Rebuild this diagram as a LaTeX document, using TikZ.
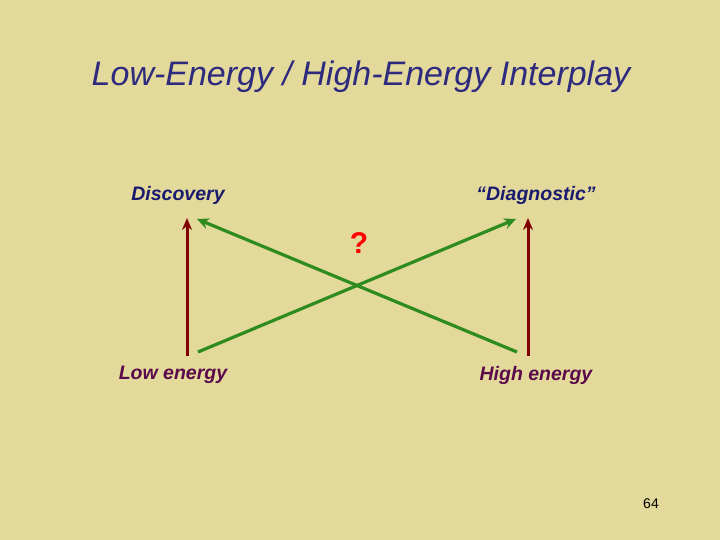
\documentclass[tikz,border=0pt]{standalone}
\usepackage{fontspec}
\setmainfont{Liberation Sans}
\usetikzlibrary{arrows.meta}
\definecolor{bg}{HTML}{E3D99B}
\definecolor{ttl}{HTML}{2E2A7E}
\definecolor{lbl}{HTML}{1A1A6E}
\definecolor{low}{HTML}{5A0A4A}
\definecolor{redarr}{HTML}{800000}
\definecolor{grn}{HTML}{2E8B1E}
\tikzset{
  lab/.style={font=\fontsize{19.5}{22}\selectfont\bfseries\itshape},
  redline/.style={redarr,line width=3pt,-{Stealth[length=12pt,width=10pt]}},
  grnline/.style={grn,line width=3.2pt,-{Stealth[length=12pt,width=11pt]}}
}
\begin{document}
\begin{tikzpicture}[x=1pt,y=-1pt]
\fill[bg] (0,0) rectangle (720,540);
\useasboundingbox (0,0) rectangle (720,540);
\node[ttl,font=\fontsize{34}{40}\selectfont\itshape] (title) at (361,77) {Low-Energy / High-Energy Interplay};
\node[lab,lbl] (disc) at (178,195) {Discovery};
\node[lab,lbl] (diag) at (536,195) {“Diagnostic”};
\node[lab,low] (lowe) at (173,375) {Low energy};
\node[lab,low] (highe) at (536,375) {High energy};
\node[red,font=\fontsize{30}{34}\selectfont\bfseries] (q) at (359,243) {?};
\node[font=\fontsize{14}{16}\selectfont] (pg) at (651,504) {64};
\coordinate (la) at (187,356);
\coordinate (lb) at (187,218);
\coordinate (ra) at (528,356);
\coordinate (rb) at (528,218);
\coordinate (g1a) at (517,352);
\coordinate (g1b) at (197,219);
\coordinate (g2a) at (198,352);
\coordinate (g2b) at (516,219);
\draw[redline] (la) -- (lb);
\draw[redline] (ra) -- (rb);
\draw[grnline] (g1a) -- (g1b);
\draw[grnline] (g2a) -- (g2b);
\end{tikzpicture}
\end{document}
